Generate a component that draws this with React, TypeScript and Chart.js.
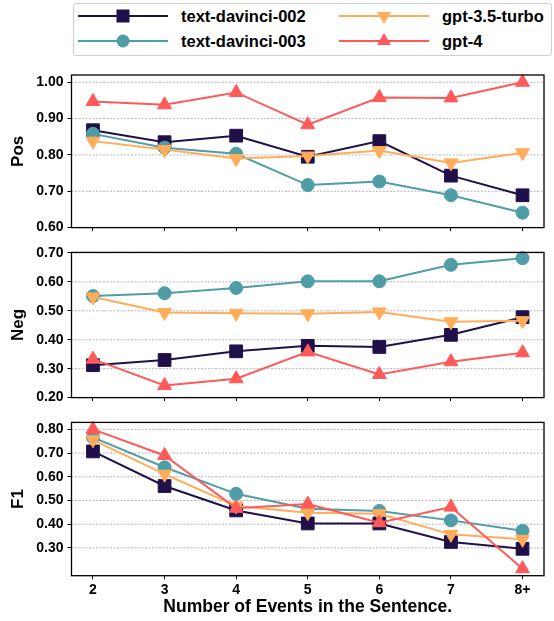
import React, { useEffect, useRef } from 'react';
import { Chart, registerables } from 'chart.js';

Chart.register(...registerables);

const categories = ['2', '3', '4', '5', '6', '7', '8+'];
const seriesNames = ['text-davinci-002', 'text-davinci-003', 'gpt-3.5-turbo', 'gpt-4'];

const posDavinci002 = [0.868, 0.835, 0.853, 0.795, 0.838, 0.743, 0.689];
const posDavinci003 = [0.858, 0.820, 0.803, 0.717, 0.727, 0.689, 0.641];
const posGpt35 = [0.838, 0.815, 0.790, 0.797, 0.812, 0.778, 0.806];
const posGpt4 = [0.947, 0.938, 0.972, 0.883, 0.958, 0.957, 1.000];

const negDavinci002 = [0.312, 0.330, 0.360, 0.379, 0.375, 0.417, 0.478];
const negDavinci003 = [0.551, 0.561, 0.579, 0.602, 0.602, 0.659, 0.682];
const negGpt35 = [0.548, 0.494, 0.492, 0.490, 0.496, 0.462, 0.466];
const negGpt4 = [0.333, 0.242, 0.265, 0.358, 0.280, 0.324, 0.355];

const f1Davinci002 = [0.707, 0.561, 0.458, 0.403, 0.403, 0.325, 0.296];
const f1Davinci003 = [0.766, 0.640, 0.528, 0.465, 0.456, 0.416, 0.372];
const f1Gpt35 = [0.756, 0.611, 0.477, 0.448, 0.444, 0.357, 0.336];
const f1Gpt4 = [0.800, 0.690, 0.467, 0.485, 0.406, 0.472, 0.212];

const posTicks = [0.6, 0.7, 0.8, 0.9, 1.0];
const negTicks = [0.2, 0.3, 0.4, 0.5, 0.6, 0.7];
const f1Ticks = [0.3, 0.4, 0.5, 0.6, 0.7, 0.8];

const COLORS = ['#20104a', '#4f9da6', '#ffad5a', '#ff5a5a'];
const STYLES: any[] = ['rect', 'circle', 'triangle', 'triangle'];
const ROT = [0, 0, 180, 0];
const RADII = [9, 6.5, 8, 8];
const ORDERS = [4, 3, 2, 1];

const FONT = "'Liberation Sans', Arial, Helvetica, sans-serif";

const framePlugin = {
  id: 'frameGrid',
  beforeDatasetsDraw(chart: any) {
    const { ctx, chartArea } = chart;
    const y = chart.scales.y;
    ctx.save();
    ctx.strokeStyle = '#b4b4b4';
    ctx.lineWidth = 1;
    ctx.setLineDash([2, 1.5]);
    y.ticks.forEach((t: any) => {
      const py = y.getPixelForValue(t.value);
      ctx.beginPath();
      ctx.moveTo(chartArea.left, py);
      ctx.lineTo(chartArea.right, py);
      ctx.stroke();
    });
    ctx.restore();
  },
  afterDraw(chart: any) {
    const { ctx, chartArea } = chart;
    ctx.save();
    ctx.strokeStyle = '#000';
    ctx.lineWidth = 1.3;
    ctx.setLineDash([]);
    ctx.strokeRect(chartArea.left, chartArea.top, chartArea.right - chartArea.left, chartArea.bottom - chartArea.top);
    ctx.restore();
  },
};

type PanelProps = {
  series: number[][];
  label: string;
  yMin: number;
  yMax: number;
  yTicks: number[];
  showX: boolean;
  top: number;
  height: number;
  padTop: number;
  xHeight: number;
};

function Panel(p: PanelProps) {
  const ref = useRef<HTMLCanvasElement | null>(null);
  useEffect(() => {
    if (!ref.current) return;
    const chart = new Chart(ref.current, {
      type: 'line',
      data: {
        datasets: p.series.map((vals, si) => ({
          label: seriesNames[si],
          data: vals.map((v, i) => ({ x: i, y: v })),
          borderColor: COLORS[si],
          backgroundColor: COLORS[si],
          pointBackgroundColor: COLORS[si],
          pointBorderColor: COLORS[si],
          pointBorderWidth: 1,
          pointStyle: STYLES[si],
          pointRotation: ROT[si],
          pointRadius: RADII[si],
          pointHoverRadius: RADII[si],
          borderWidth: 2,
          tension: 0,
          order: ORDERS[si],
          clip: 4,
        })),
      },
      options: {
        animation: false,
        responsive: false,
        maintainAspectRatio: false,
        devicePixelRatio: 1,
        layout: { padding: { top: p.padTop, left: 0, right: 1.3, bottom: 0 } },
        plugins: { legend: { display: false }, tooltip: { enabled: false } },
        events: [],
        scales: {
          x: {
            type: 'linear',
            min: -0.3,
            max: 6.3,
            afterBuildTicks: (s: any) => {
              s.ticks = categories.map((_, i) => ({ value: i }));
            },
            afterFit: (s: any) => {
              s.height = p.xHeight;
            },
            grid: { drawOnChartArea: false, drawTicks: true, tickLength: 3.5, tickColor: '#000', tickWidth: 1 },
            border: { display: false },
            ticks: {
              display: p.showX,
              autoSkip: false,
              maxRotation: 0,
              padding: 3,
              color: '#000',
              font: { family: FONT, size: 14, weight: 'bold' },
              callback: (v: any) => categories[v as number],
            },
            title: {
              display: p.showX,
              text: 'Number of Events in the Sentence.',
              color: '#000',
              font: { family: FONT, size: 17.5, weight: 'bold' },
              padding: { top: 0, bottom: 3 },
            },
          },
          y: {
            type: 'linear',
            min: p.yMin,
            max: p.yMax,
            afterBuildTicks: (s: any) => {
              s.ticks = p.yTicks.map((v) => ({ value: v }));
            },
            afterFit: (s: any) => {
              s.width = 71.5;
            },
            grid: { drawOnChartArea: false, drawTicks: true, tickLength: 4, tickColor: '#000', tickWidth: 1 },
            border: { display: false },
            ticks: {
              padding: 4,
              color: '#000',
              font: { family: FONT, size: 14, weight: 'bold' },
              callback: (v: any) => Number(v).toFixed(2),
            },
            title: {
              display: true,
              text: p.label,
              color: '#000',
              font: { family: FONT, size: 17, weight: 'bold' },
              padding: { top: 8, bottom: 0 },
            },
          },
        },
      } as any,
      plugins: [framePlugin],
    });
    return () => chart.destroy();
  }, []);
  return (
    <canvas
      ref={ref}
      width={554}
      height={p.height}
      style={{ position: 'absolute', left: 0, top: p.top, width: 554, height: p.height }}
    />
  );
}

function Marker({ i, cx, cy }: { i: number; cx: number; cy: number }) {
  const c = COLORS[i];
  if (i === 0) return <rect x={cx - 6.5} y={cy - 6.5} width={13} height={13} fill={c} />;
  if (i === 1) return <circle cx={cx} cy={cy} r={6.5} fill={c} />;
  if (i === 2)
    return <polygon points={`${cx - 7},${cy - 4} ${cx + 7},${cy - 4} ${cx},${cy + 8}`} fill={c} />;
  return <polygon points={`${cx - 7},${cy + 4} ${cx + 7},${cy + 4} ${cx},${cy - 8}`} fill={c} />;
}

function Legend() {
  const items = [
    { i: 0, x: 78, y: 16 },
    { i: 1, x: 78, y: 41 },
    { i: 2, x: 339, y: 16 },
    { i: 3, x: 339, y: 41 },
  ];
  return (
    <div
      style={{
        position: 'absolute',
        left: 73,
        top: 3,
        width: 477,
        height: 51,
        border: '1.3px solid #cfcfcf',
        borderRadius: 3,
        background: '#fff',
      }}
    >
      {items.map((it) => (
        <React.Fragment key={it.i}>
          <svg
            width={92}
            height={20}
            style={{ position: 'absolute', left: it.x - 74, top: it.y - 4 - 10 }}
          >
            <line x1={0} y1={10} x2={90} y2={10} stroke={COLORS[it.i]} strokeWidth={2} />
            <Marker i={it.i} cx={45} cy={10} />
          </svg>
          <div
            style={{
              position: 'absolute',
              left: it.x - 74 + 103,
              top: it.y - 4 - 11,
              height: 22,
              lineHeight: '22px',
              fontFamily: FONT,
              fontWeight: 'bold',
              fontSize: 16.5,
              color: '#000',
              whiteSpace: 'nowrap',
            }}
          >
            {seriesNames[it.i]}
          </div>
        </React.Fragment>
      ))}
    </div>
  );
}

export default function App() {
  return (
    <div style={{ position: 'absolute', left: 0, top: 0, width: 554, height: 621, background: '#fff', overflow: 'hidden' }}>
      <Legend />
      <Panel
        series={[posDavinci002, posDavinci003, posGpt35, posGpt4]}
        label="Pos"
        yMin={0.6}
        yMax={1.02}
        yTicks={posTicks}
        showX={false}
        top={62}
        height={178}
        padTop={13}
        xHeight={9}
      />
      <Panel
        series={[negDavinci002, negDavinci003, negGpt35, negGpt4]}
        label="Neg"
        yMin={0.2}
        yMax={0.702}
        yTicks={negTicks}
        showX={false}
        top={240}
        height={170}
        padTop={10.5}
        xHeight={4.5}
      />
      <Panel
        series={[f1Davinci002, f1Davinci003, f1Gpt35, f1Gpt4]}
        label="F1"
        yMin={0.1826}
        yMax={0.8294}
        yTicks={f1Ticks}
        showX={true}
        top={410}
        height={211}
        padTop={10.7}
        xHeight={45.3}
      />
    </div>
  );
}
